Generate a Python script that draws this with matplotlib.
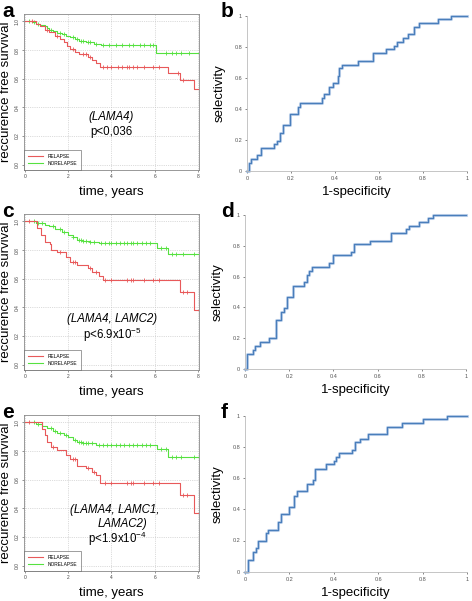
import matplotlib
matplotlib.use("Agg")
import matplotlib.pyplot as plt
import numpy as np

plt.rcParams["font.family"] = ["Liberation Sans", "DejaVu Sans"]
plt.rcParams["mathtext.default"] = "regular"

W, H = 472, 601

# ---- Kaplan-Meier data (step times / survival level after the step) ----
a_rel_t = [0, 0.5, 0.7, 0.9, 1.1, 1.4, 1.6, 1.8, 1.95, 2.1, 2.3, 2.5, 2.9, 3.1, 3.3, 3.45, 6.6, 7.15, 7.8]
a_rel_s = [1.0, 0.985, 0.965, 0.94, 0.925, 0.9, 0.88, 0.86, 0.83, 0.81, 0.79, 0.77, 0.75, 0.73, 0.71, 0.685, 0.64, 0.59, 0.525]
a_rel_c = [0.3, 1.0, 1.5, 2.2, 2.7, 2.8, 3.0, 3.6, 3.8, 4.0, 4.3, 4.5, 4.7, 4.8, 5.0, 5.2, 5.5, 5.9, 6.2, 7.1, 7.3]
a_nor_t = [0, 0.3, 0.5, 0.7, 0.9, 1.0, 1.1, 1.3, 1.5, 1.7, 1.9, 2.1, 2.3, 2.5, 2.8, 3.2, 3.5, 6.05]
a_nor_s = [1.0, 0.995, 0.985, 0.975, 0.965, 0.955, 0.94, 0.93, 0.92, 0.91, 0.9, 0.89, 0.875, 0.865, 0.855, 0.845, 0.836, 0.78]
a_nor_c = [0.2, 0.4, 0.6, 1.2, 1.6, 1.8, 2.2, 2.4, 2.6, 2.7, 2.9, 3.0, 3.3, 3.6, 3.9, 4.2, 4.5, 4.8,
           5.0, 5.3, 5.5, 5.8, 5.9, 6.5, 6.8, 7.0, 7.2, 7.6]

c_rel_t = [0, 0.55, 0.75, 0.9, 1.15, 1.2, 1.5, 1.9, 2.1, 2.4, 2.9, 3.1, 3.4, 3.6, 7.15, 7.8]
c_rel_s = [1.0, 0.953, 0.906, 0.86, 0.84, 0.8, 0.785, 0.755, 0.72, 0.697, 0.674, 0.65, 0.62, 0.59, 0.51, 0.38]
c_rel_c = [0.2, 1.6, 2.2, 2.3, 3.0, 3.3, 3.7, 4.0, 4.7, 4.9, 5.0, 5.5, 5.9, 6.2, 7.3, 7.5]
c_nor_t = [0, 0.5, 0.9, 1.1, 1.4, 1.7, 2.0, 2.2, 2.4, 2.7, 3.0, 3.4, 6.1, 6.6]
c_nor_s = [1.0, 0.99, 0.975, 0.965, 0.945, 0.925, 0.905, 0.89, 0.872, 0.862, 0.855, 0.848, 0.818, 0.77]
c_nor_c = [0.4, 0.6, 0.8, 1.3, 1.6, 1.8, 2.2, 2.5, 2.6, 2.7, 2.8, 3.0, 3.2, 3.5, 3.7, 3.9, 4.0, 4.2,
           4.4, 4.6, 4.7, 4.9, 5.0, 5.2, 5.4, 5.6, 5.8, 6.3, 6.5, 6.8, 7.0, 7.3, 7.8]

e_rel_t = [0, 0.8, 0.9, 1.0, 1.2, 1.5, 1.9, 2.1, 2.4, 2.8, 3.1, 3.3, 3.45, 7.15, 7.8]
e_rel_s = [1.0, 0.953, 0.913, 0.866, 0.83, 0.81, 0.773, 0.742, 0.695, 0.68, 0.656, 0.632, 0.58, 0.497, 0.37]
e_rel_c = [0.2, 1.3, 2.2, 2.3, 2.9, 3.2, 3.7, 4.0, 4.7, 4.9, 5.0, 5.5, 5.9, 6.2, 7.3, 7.5]
e_nor_t = [0, 0.5, 0.8, 1.0, 1.3, 1.5, 1.8, 2.0, 2.2, 2.4, 2.7, 3.0, 3.3, 6.1, 6.6]
e_nor_s = [1.0, 0.99, 0.975, 0.96, 0.94, 0.925, 0.91, 0.895, 0.88, 0.866, 0.86, 0.855, 0.843, 0.812, 0.76]
e_nor_c = [0.4, 0.6, 1.2, 1.4, 1.6, 1.9, 2.3, 2.5, 2.6, 2.7, 2.8, 2.9, 3.1, 3.4, 3.6, 3.8, 4.0, 4.2,
           4.4, 4.6, 4.8, 5.0, 5.2, 5.4, 5.6, 5.8, 6.3, 6.5, 6.8, 7.0, 7.2, 7.8]

# ---- ROC data (1-specificity where the curve steps up / selectivity after the step) ----
b_fpr = [0, 0.011, 0.018, 0.044, 0.064, 0.124, 0.135, 0.15, 0.162, 0.195, 0.233, 0.242, 0.341, 0.352,
         0.374, 0.389, 0.412, 0.42, 0.432, 0.503, 0.574, 0.632, 0.67, 0.682, 0.708, 0.73, 0.761, 0.783,
         0.867, 0.927, 1.0]
b_tpr = [0, 0.05, 0.075, 0.1, 0.15, 0.174, 0.195, 0.247, 0.296, 0.367, 0.414, 0.44, 0.468, 0.494,
         0.539, 0.564, 0.612, 0.661, 0.682, 0.708, 0.758, 0.783, 0.807, 0.833, 0.854, 0.88, 0.929, 0.951,
         0.976, 1.0, 1.0]
d_fpr = [0, 0.009, 0.035, 0.047, 0.068, 0.107, 0.14, 0.163, 0.175, 0.189, 0.216, 0.268, 0.279, 0.291,
         0.303, 0.382, 0.4, 0.48, 0.495, 0.566, 0.661, 0.729, 0.741, 0.786, 0.827, 0.849, 1.0]
d_tpr = [0, 0.1, 0.125, 0.151, 0.175, 0.2, 0.32, 0.367, 0.395, 0.467, 0.536, 0.564, 0.611, 0.637,
         0.665, 0.691, 0.741, 0.762, 0.81, 0.834, 0.881, 0.907, 0.931, 0.955, 0.978, 1.0, 1.0]
f_fpr = [0, 0.012, 0.034, 0.049, 0.057, 0.094, 0.105, 0.15, 0.162, 0.199, 0.222, 0.234, 0.278, 0.307,
         0.316, 0.367, 0.401, 0.412, 0.424, 0.484, 0.496, 0.516, 0.555, 0.638, 0.708, 0.802, 0.91, 1.0]
f_tpr = [0, 0.075, 0.124, 0.15, 0.197, 0.246, 0.267, 0.316, 0.368, 0.417, 0.485, 0.517, 0.56, 0.588,
         0.658, 0.688, 0.709, 0.733, 0.759, 0.78, 0.829, 0.85, 0.88, 0.929, 0.951, 0.979, 1.0, 1.0]

RED = "#E8595A"
GREEN = "#55E13F"
BLUE = "#4A7EBB"

fig = plt.figure(figsize=(W / 100, H / 100), dpi=100)


def px_axes(l, t, r, b):
    return fig.add_axes([l / W, 1 - b / H, (r - l) / W, (b - t) / H])


def km_curve(ax, t, s, cens, color):
    tt = list(t) + [8.0]
    ss = list(s) + [s[-1]]
    ax.step(tt, ss, where="post", color=color, lw=0.8)
    idx = np.searchsorted(t, cens, side="right") - 1
    ax.plot(cens, np.array(s)[idx], ls="none", marker="+", ms=3, mew=0.6, color=color)


def km_panel(top, rel, nor, texts, letter):
    ax = px_axes(24, top, 199, top + 156)
    ax.set_xlim(-0.05, 8.05)
    ax.set_ylim(-0.037, 1.052)
    ax.set_xticks([0, 2, 4, 6, 8])
    ax.set_yticks([0, 0.2, 0.4, 0.6, 0.8, 1.0])
    ax.set_yticklabels(["0.0", "0.2", "0.4", "0.6", "0.8", "1.0"], rotation=90, va="center")
    ax.tick_params(labelsize=3.5, length=1.5, width=0.4, pad=1.5, colors="#444444")
    ax.grid(True, ls=":", lw=0.5, color="#BBBBBB")
    for sp in ax.spines.values():
        sp.set_color("#888888")
        sp.set_linewidth(0.6)
    km_curve(ax, *nor, GREEN)
    km_curve(ax, *rel, RED)
    ax.plot([], [], color=RED, lw=0.8, label="RELAPSE")
    ax.plot([], [], color=GREEN, lw=0.8, label="NORELAPSE")
    leg = ax.legend(loc="lower left", fontsize=3.5, frameon=True, fancybox=False,
                    borderaxespad=0.0, handlelength=3.2, borderpad=0.8, labelspacing=0.5)
    leg.get_frame().set_edgecolor("#555555")
    leg.get_frame().set_linewidth(0.5)
    ax.set_ylabel("reccurence free survival", fontsize=9.5)
    ax.yaxis.set_label_coords(-0.068, 0.5)
    ax.set_xlabel("time, years", fontsize=9.5, labelpad=5)
    for (x, y, s, it) in texts:
        ax.text(x, y, s, ha="center", va="center", fontsize=8.3,
                style="italic" if it else "normal")
    fig.text(2 / W, 1 - (top - 12) / H, letter, fontsize=15, fontweight="bold", va="top")
    return ax


def roc_panel(l, t, r, b, fpr, tpr, letter, top):
    ax = px_axes(l, t, r, b)
    ax.set_xlim(0, 1)
    ax.set_ylim(0, 1)
    ax.step(fpr, tpr, where="post", color="#B4CBE8", lw=2.2, alpha=0.7, clip_on=False)
    ax.step(fpr, tpr, where="post", color=BLUE, lw=1.0, clip_on=False)
    ax.set_xticks([0, 0.2, 0.4, 0.6, 0.8, 1])
    ax.set_xticklabels(["0", "0.2", "0.4", "0.6", "0.8", "1"])
    ax.set_yticks([0, 0.2, 0.4, 0.6, 0.8, 1])
    ax.set_yticklabels(["0", "0.2", "0.4", "0.6", "0.8", "1"])
    ax.tick_params(labelsize=4, length=1.5, width=0.5, pad=2, colors="#555555")
    for k in ("top", "right"):
        ax.spines[k].set_visible(False)
    for k in ("left", "bottom"):
        ax.spines[k].set_color("#BBBBBB")
        ax.spines[k].set_linewidth(0.6)
    ax.set_xlabel("1-specificity", fontsize=9.5, labelpad=4)
    ax.set_ylabel("selectivity", fontsize=9.5)
    ax.yaxis.set_label_coords(-0.095, 0.5)
    fig.text(221 / W, 1 - (top - 12) / H, letter, fontsize=15, fontweight="bold", va="top")
    return ax


km_panel(14, (a_rel_t, a_rel_s, a_rel_c), (a_nor_t, a_nor_s, a_nor_c),
         [(4.0, 0.33, "(LAMA4)", True), (4.0, 0.225, "p<0,036", False)], "a")
km_panel(214, (c_rel_t, c_rel_s, c_rel_c), (c_nor_t, c_nor_s, c_nor_c),
         [(4.03, 0.32, "(LAMA4, LAMC2)", True), (4.03, 0.21, "p<6.9x10$^{-5}$", False)], "c")
km_panel(415, (e_rel_t, e_rel_s, e_rel_c), (e_nor_t, e_nor_s, e_nor_c),
         [(4.15, 0.386, "(LAMA4, LAMC1,", True), (4.5, 0.29, "LAMAC2)", True),
          (4.25, 0.187, "p<1.9x10$^{-4}$", False)], "e")

roc_panel(247, 15.7, 467, 171, b_fpr, b_tpr, "b", 14)
roc_panel(245, 215, 466, 369, d_fpr, d_tpr, "d", 214)
roc_panel(245, 415.7, 467, 571.7, f_fpr, f_tpr, "f", 415)

fig.savefig("out.png", dpi=100)
